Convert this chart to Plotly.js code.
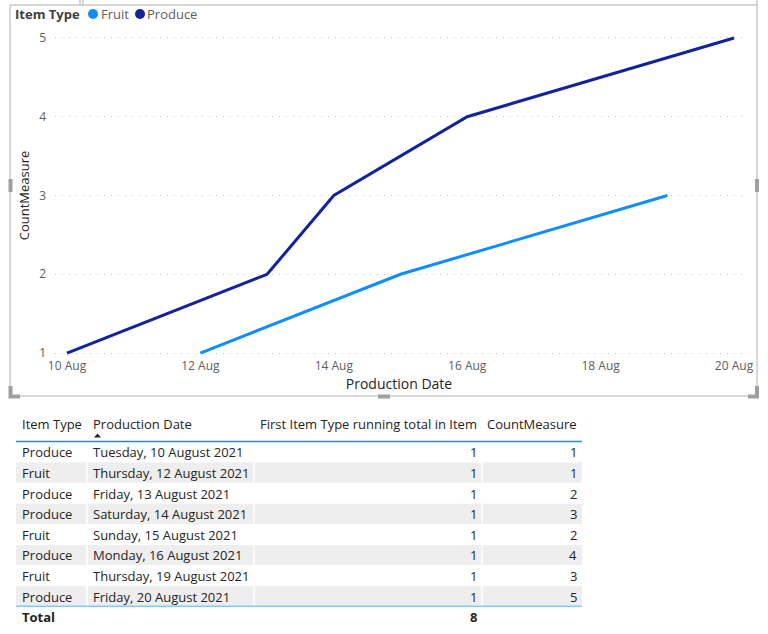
<!DOCTYPE html>
<html>
<head>
<meta charset="utf-8">
<script src="https://cdn.plot.ly/plotly-3.0.1.min.js"></script>
<style>html,body{margin:0;padding:0;background:#fff;}#chart{width:768px;height:634px;}</style>
</head>
<body>
<div id="chart"></div>
<script>
// ---- data ----
const itemTypes = ['Produce','Fruit','Produce','Produce','Fruit','Produce','Fruit','Produce'];
const isoDates = ['2021-08-10','2021-08-12','2021-08-13','2021-08-14','2021-08-15','2021-08-16','2021-08-19','2021-08-20'];
const dateLabels = ['Tuesday, 10 August 2021','Thursday, 12 August 2021','Friday, 13 August 2021','Saturday, 14 August 2021','Sunday, 15 August 2021','Monday, 16 August 2021','Thursday, 19 August 2021','Friday, 20 August 2021'];
const runningTotal = [1,1,1,1,1,1,1,1];
const countMeasure = [1,1,2,3,2,4,3,5];
const runningTotalSum = 8;
const seriesNames = ['Fruit','Produce'];
const xTickVals = ['2021-08-10','2021-08-12','2021-08-14','2021-08-16','2021-08-18','2021-08-20'];
const xTickText = ['10 Aug','12 Aug','14 Aug','16 Aug','18 Aug','20 Aug'];
const yTickVals = [1,2,3,4,5];
const tableHeaders = ['Item Type','Production Date','First Item Type running total in Item','CountMeasure'];

// ---- styles ----
const W = 768, H = 634;
const px = x => x / W, py = y => 1 - y / H;
const FONT = 'Segoe UI, "Open Sans", "Noto Sans", sans-serif';
const colors = {Fruit:'#118DFF', Produce:'#12239E'};
const border = '#B3B0AD';
const handle = '#A19F9D';

const traces = seriesNames.map(name => {
  const xs = [], ys = [];
  itemTypes.forEach((t,i) => { if (t === name) { xs.push(isoDates[i]); ys.push(countMeasure[i]); } });
  return {type:'scatter', mode:'lines', name, x:xs, y:ys, xaxis:'x', yaxis:'y',
    line:{color:colors[name], width:3}, showlegend:false, hoverinfo:'skip'};
});

const P = (x,y) => `${px(x)} ${py(y)}`;
const shapes = [
  // visual frame
  {type:'rect', xref:'paper', yref:'paper', x0:px(10), x1:px(757), y0:py(396), y1:py(5), line:{color:border, width:1}},
  {type:'line', xref:'paper', yref:'paper', x0:px(80), x1:px(80), y0:py(0), y1:py(5), line:{color:border, width:1}},
  {type:'line', xref:'paper', yref:'paper', x0:px(83), x1:px(83), y0:py(0), y1:py(5), line:{color:border, width:1}},
  {type:'line', xref:'paper', yref:'paper', x0:px(757), x1:px(757), y0:py(0), y1:py(5), line:{color:border, width:1}},
  // handles
  {type:'rect', xref:'paper', yref:'paper', x0:px(8.5), x1:px(12.5), y0:py(192), y1:py(179), fillcolor:handle, line:{width:0}},
  {type:'rect', xref:'paper', yref:'paper', x0:px(755), x1:px(759), y0:py(192), y1:py(179), fillcolor:handle, line:{width:0}},
  {type:'rect', xref:'paper', yref:'paper', x0:px(378), x1:px(390), y0:py(398.5), y1:py(394.5), fillcolor:handle, line:{width:0}},
  {type:'path', xref:'paper', yref:'paper', path:`M ${P(8.5,386)} L ${P(12.5,386)} L ${P(12.5,394.5)} L ${P(20,394.5)} L ${P(20,398.5)} L ${P(8.5,398.5)} Z`, fillcolor:handle, line:{width:0}},
  {type:'path', xref:'paper', yref:'paper', path:`M ${P(759,386)} L ${P(755,386)} L ${P(755,394.5)} L ${P(748,394.5)} L ${P(748,398.5)} L ${P(759,398.5)} Z`, fillcolor:handle, line:{width:0}},
  // legend markers
  {type:'circle', xref:'paper', yref:'paper', x0:px(88), x1:px(98), y0:py(19), y1:py(9), fillcolor:colors.Fruit, line:{width:0}},
  {type:'circle', xref:'paper', yref:'paper', x0:px(135), x1:px(145), y0:py(19), y1:py(9), fillcolor:colors.Produce, line:{width:0}}
];

const annotations = [
  {xref:'paper', yref:'paper', x:px(13), y:py(14), xanchor:'left', yanchor:'middle', showarrow:false,
   text:'<b>Item Type</b>', font:{family:FONT, size:13, color:'#404040'}},
  {xref:'paper', yref:'paper', x:px(99), y:py(14), xanchor:'left', yanchor:'middle', showarrow:false,
   text:seriesNames[0], font:{family:FONT, size:13, color:'#605E5C'}},
  {xref:'paper', yref:'paper', x:px(145), y:py(14), xanchor:'left', yanchor:'middle', showarrow:false,
   text:seriesNames[1], font:{family:FONT, size:13, color:'#605E5C'}}
];

// ---- table (drawn with shapes + annotations) ----
const T = {left:16, right:582, headerY:424, headerLine:441.5, rowH:20.6, colSep:[87,254,482],
  textX:[20,91,479,579], anchor:['left','left','right','right'], headerAnchor:['left','left','left','right'], headerX:[20,91,258,579]};
const tFont = {family:FONT, size:13, color:'#252423'};
tableHeaders.forEach((h,c) => annotations.push({xref:'paper', yref:'paper', x:px(T.headerX[c]), y:py(T.headerY),
  xanchor:T.headerAnchor[c], yanchor:'middle', showarrow:false, text:h, font:tFont}));
const columns = [itemTypes, dateLabels, runningTotal.map(String), countMeasure.map(String)];
for (let i = 0; i < itemTypes.length; i++) {
  const top = T.headerLine + i * T.rowH, bot = top + T.rowH, mid = (top + bot) / 2;
  if (i % 2 === 1) {
    shapes.push({type:'rect', xref:'paper', yref:'paper', layer:'below', x0:px(T.left), x1:px(T.right), y0:py(bot), y1:py(top+0.5), fillcolor:'#EEEEEE', line:{width:0}});
    T.colSep.forEach(s => shapes.push({type:'line', xref:'paper', yref:'paper', x0:px(s), x1:px(s), y0:py(bot), y1:py(top), line:{color:'#FFFFFF', width:1.5}}));
  }
  columns.forEach((col,c) => annotations.push({xref:'paper', yref:'paper', x:px(T.textX[c]), y:py(mid+0.5),
    xanchor:T.anchor[c], yanchor:'middle', showarrow:false, text:col[i], font:tFont}));
}
const totalTop = T.headerLine + itemTypes.length * T.rowH;
annotations.push({xref:'paper', yref:'paper', x:px(T.textX[0]), y:py(totalTop + 11), xanchor:'left', yanchor:'middle', showarrow:false, text:'<b>Total</b>', font:tFont});
annotations.push({xref:'paper', yref:'paper', x:px(T.textX[2]), y:py(totalTop + 11), xanchor:'right', yanchor:'middle', showarrow:false, text:'<b>'+runningTotalSum+'</b>', font:tFont});
shapes.push({type:'line', xref:'paper', yref:'paper', x0:px(T.left), x1:px(T.right), y0:py(T.headerLine), y1:py(T.headerLine), line:{color:'#118DFF', width:1.5}});
shapes.push({type:'line', xref:'paper', yref:'paper', x0:px(T.left), x1:px(T.right), y0:py(totalTop), y1:py(totalTop), line:{color:'#8CC8FF', width:1.5}});
// sort arrow
shapes.push({type:'path', xref:'paper', yref:'paper', path:`M ${P(94,437.5)} L ${P(101,437.5)} L ${P(97.5,433.5)} Z`, fillcolor:'#252423', line:{width:0}});

const layout = {
  width:W, height:H,
  margin:{l:0, r:0, t:0, b:0, pad:0},
  paper_bgcolor:'#FFFFFF', plot_bgcolor:'#FFFFFF',
  font:{family:FONT, color:'#605E5C'},
  showlegend:false,
  xaxis:{
    type:'date', domain:[px(55), px(743)], anchor:'y',
    range:['2021-08-09 19:41','2021-08-20 03:14'],
    tickvals:xTickVals, ticktext:xTickText,
    showgrid:false, zeroline:false, showline:false, ticks:'',
    tickfont:{family:FONT, size:12, color:'#605E5C'},
    title:{text:'Production Date', font:{family:FONT, size:14, color:'#252423'}, standoff:6},
    automargin:false, fixedrange:true
  },
  yaxis:{
    domain:[py(357), py(34)], anchor:'x',
    range:[0.95, 5.05],
    tickvals:yTickVals,
    showgrid:true, gridcolor:'#C8C6C4', gridwidth:1, griddash:'1px,6px',
    zeroline:false, showline:false, ticks:'',
    ticklabelstandoff:8,
    tickfont:{family:FONT, size:12, color:'#605E5C'},
    title:{text:'CountMeasure', font:{family:FONT, size:13, color:'#252423'}, standoff:6},
    automargin:false, fixedrange:true
  },
  shapes, annotations
};

Plotly.newPlot('chart', traces, layout, {displayModeBar:false, staticPlot:true});
</script>
</body>
</html>
